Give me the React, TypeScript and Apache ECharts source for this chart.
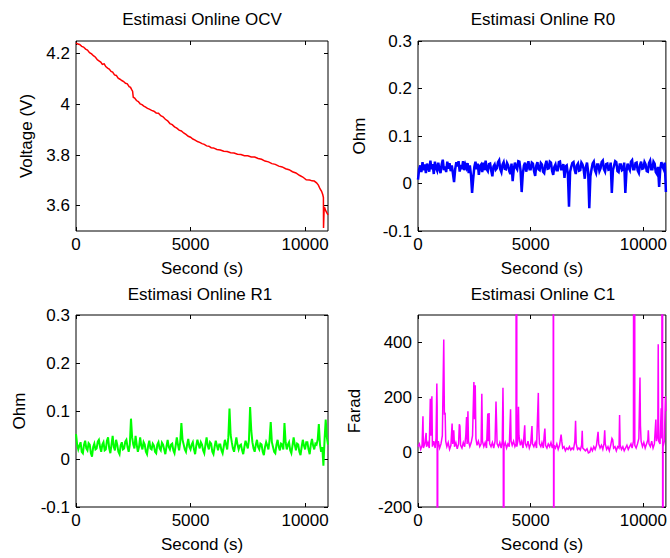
import { useEffect, useRef } from "react";
import * as echarts from "echarts";

// ---- Data ----
const ocvSamples: [number, number][] = [
  [0, 4.243], [80, 4.238], [160, 4.236], [250, 4.229], [330, 4.226], [420, 4.218], [500, 4.214], [590, 4.204], [680, 4.199], [760, 4.192],
  [850, 4.186], [930, 4.176], [1000, 4.172], [1080, 4.167], [1150, 4.158], [1230, 4.16], [1300, 4.149], [1380, 4.143], [1450, 4.139], [1530, 4.13],
  [1600, 4.127], [1680, 4.116], [1760, 4.114], [1840, 4.103], [1920, 4.099], [2000, 4.094], [2080, 4.09], [2160, 4.083], [2240, 4.081], [2320, 4.07],
  [2380, 4.067], [2430, 4.058], [2470, 4.052], [2500, 4.028], [2560, 4.025], [2640, 4.015], [2720, 4.011], [2800, 4.002], [2880, 3.999], [2960, 3.993],
  [3040, 3.989], [3120, 3.984], [3200, 3.981], [3300, 3.976], [3400, 3.973], [3500, 3.966], [3600, 3.965], [3700, 3.955], [3800, 3.951], [3900, 3.941],
  [4000, 3.935], [4100, 3.924], [4200, 3.92], [4300, 3.911], [4400, 3.906], [4500, 3.898], [4600, 3.895], [4700, 3.887], [4800, 3.881], [4900, 3.874],
  [5000, 3.87], [5100, 3.863], [5200, 3.859], [5300, 3.853], [5400, 3.85], [5500, 3.845], [5600, 3.842], [5700, 3.836], [5800, 3.835], [5900, 3.829],
  [6000, 3.828], [6150, 3.822], [6300, 3.82], [6450, 3.815], [6600, 3.814], [6750, 3.809], [6900, 3.808], [7050, 3.803], [7200, 3.802], [7350, 3.797],
  [7500, 3.797], [7650, 3.792], [7800, 3.792], [7950, 3.786], [8100, 3.783], [8250, 3.776], [8400, 3.773], [8550, 3.766], [8700, 3.763], [8850, 3.756],
  [9000, 3.753], [9150, 3.746], [9300, 3.742], [9450, 3.734], [9600, 3.729], [9750, 3.72], [9900, 3.713], [10050, 3.702], [10200, 3.701], [10300, 3.698],
  [10400, 3.697], [10500, 3.69], [10580, 3.681], [10650, 3.667], [10720, 3.657], [10770, 3.644], [10800, 3.632], [10805, 3.512], [10830, 3.585], [10860, 3.59],
  [10900, 3.58], [10950, 3.572], [11000, 3.564],
];

const resistanceStep = 50; // seconds between R0 / R1 samples
const r0Ohm = [
  0.008, 0.03, 0.038, 0.024, 0.045, 0.028, 0.04, 0.022, 0.042, 0.035, 0.025, 0.048, 0.03, 0.041, 0.02, 0.046, 0.033, 0.027, 0.044, 0.03,
  0.022, 0.04, 0.05, 0.028, 0.036, 0.024, 0.046, 0.031, 0.043, 0.026, 0.038, 0.021, 0.003, 0.03, 0.045, 0.036, 0.047, 0.025, 0.039, 0.03,
  0.047, 0.028, 0.04, 0.033, 0.043, 0.022, 0.038, 0.018, -0.02, 0.01, 0.035, 0.046, 0.03, 0.042, 0.018, 0.037, 0.04, 0.024, 0.044, 0.028,
  0.048, 0.03, 0.026, 0.041, 0.042, 0.027, 0.015, 0.036, 0.04, 0.029, 0.032, 0.045, 0.049, 0.03, 0.024, 0.04, 0.045, 0.031, 0.03, 0.043,
  0.038, 0.026, 0.02, 0.042, 0.005, 0.03, 0.044, 0.034, 0.03, 0.047, 0.046, 0.028, -0.018, 0.02, 0.038, 0.044, 0.025, 0.036, 0.047, 0.03,
  0.03, 0.044, 0.042, 0.026, 0.016, 0.038, 0.045, 0.03, 0.028, 0.043, 0.04, 0.025, 0.022, 0.039, 0.048, 0.031, 0.032, 0.046, 0.044, 0.027,
  0.018, 0.035, 0.04, 0.028, 0.028, 0.045, 0.046, 0.03, 0.03, 0.041, 0.012, 0.036, 0.038, 0.02, -0.049, 0.025, 0.035, 0.043, 0.045, 0.029,
  0.02, 0.038, 0.042, 0.027, 0.028, 0.044, 0.04, 0.03, 0.01, 0.035, 0.044, 0.025, -0.052, 0.015, 0.03, 0.042, 0.046, 0.028, 0.022, 0.04,
  0.04, 0.026, 0.032, 0.045, 0.048, 0.03, 0.025, 0.041, 0.042, 0.029, 0.03, 0.044, -0.02, 0.028, 0.038, 0.047, 0.045, 0.026, 0.024, 0.04,
  0.04, 0.028, 0.03, 0.044, -0.02, 0.025, 0.042, 0.033, 0.028, 0.046, 0.049, 0.03, 0.03, 0.043, 0.044, 0.027, 0.022, 0.039, 0.046, 0.031,
  0.032, 0.045, 0.04, 0.026, 0.025, 0.043, 0.048, 0.03, 0.03, 0.046, 0.042, 0.024, 0.02, 0.035, -0.007, 0.03, 0.045, 0.036, 0.03, 0.044, -0.018,
];
const r1Ohm = [
  0.052, 0.03, 0.02, 0.028, 0.035, 0.015, 0.012, 0.03, 0.038, 0.022, 0.018, 0.033, 0.03, 0.012, 0.005, 0.025, 0.032, 0.02, 0.022, 0.036,
  0.04, 0.025, 0.015, 0.03, 0.035, 0.018, 0.02, 0.038, 0.045, 0.022, 0.012, 0.03, 0.048, 0.025, 0.018, 0.04, 0.03, 0.015, 0.01, 0.028,
  0.035, 0.02, 0.022, 0.036, 0.04, 0.025, 0.015, 0.03, 0.084, 0.045, 0.03, 0.022, 0.048, 0.03, 0.015, 0.025, 0.045, 0.028, 0.02, 0.035,
  0.03, 0.015, 0.01, 0.028, 0.038, 0.022, 0.02, 0.032, 0.028, 0.015, 0.012, 0.03, 0.035, 0.022, 0.018, 0.034, 0.03, 0.02, 0.01, 0.026,
  0.04, 0.025, 0.02, 0.03, 0.032, 0.018, 0.012, 0.028, 0.045, 0.03, 0.018, 0.035, 0.075, 0.04, 0.03, 0.02, 0.015, 0.03, 0.042, 0.025,
  0.02, 0.03, 0.035, 0.02, 0.01, 0.028, 0.04, 0.03, 0.022, 0.035, 0.03, 0.018, 0.012, 0.03, 0.045, 0.028, 0.02, 0.035, 0.032, 0.015,
  0.01, 0.025, 0.038, 0.028, 0.018, 0.03, 0.03, 0.018, 0.012, 0.026, 0.04, 0.03, 0.02, 0.045, 0.105, 0.05, 0.035, 0.022, 0.015, 0.03,
  0.045, 0.03, 0.02, 0.028, 0.03, 0.018, 0.01, 0.025, 0.038, 0.03, 0.022, 0.04, 0.108, 0.06, 0.035, 0.022, 0.015, 0.03, 0.04, 0.025,
  0.02, 0.032, 0.03, 0.015, 0.008, 0.025, 0.035, 0.028, 0.02, 0.04, 0.077, 0.035, 0.025, 0.015, 0.012, 0.03, 0.04, 0.025, 0.018, 0.032,
  0.03, 0.02, 0.075, 0.035, 0.02, 0.03, 0.035, 0.018, 0.012, 0.028, 0.045, 0.03, 0.018, 0.032, 0.03, 0.015, 0.008, 0.025, 0.04, 0.028,
  0.02, 0.035, 0.035, 0.02, 0.01, 0.03, 0.042, 0.028, 0.02, 0.032, 0.03, 0.04, 0.073, 0.03, 0.015, 0.025, -0.014, 0.04, 0.082, 0.045, 0.03,
];

const c1Samples: [number, number][] = [
  [0, 20], [60, 30], [120, 10], [180, 25], [220, 131], [240, 15], [300, 30], [360, 70], [380, 20], [440, 35],
  [500, 15], [545, 195], [570, 60], [616, 204], [640, 20], [700, 40], [760, 15], [800, 50], [836, 250], [850, 165],
  [860, -5000], [875, 20], [900, 40], [960, 15], [1020, 30], [1080, 60], [1143, 411], [1170, 140], [1205, 141], [1230, 40],
  [1280, 20], [1340, 35], [1400, 10], [1460, 25], [1513, 104], [1540, 30], [1587, 80], [1620, 20], [1680, 35], [1740, 12],
  [1800, 30], [1834, 102], [1860, 95], [1890, 25], [1950, 15], [2010, 35], [2070, 20], [2120, 60], [2155, 128], [2180, 30],
  [2216, 149], [2240, 40], [2300, 20], [2360, 35], [2420, 60], [2480, 256], [2510, 120], [2540, 244], [2570, 50], [2620, 25],
  [2680, 40], [2740, 20], [2800, 30], [2832, 213], [2860, 40], [2920, 20], [2980, 35], [3040, 15], [3096, 141], [3120, 40],
  [3155, 143], [3180, 30], [3240, 20], [3300, 35], [3360, 15], [3420, 40], [3461, 185], [3480, 128], [3510, 30], [3570, 20],
  [3630, 35], [3690, 15], [3740, 40], [3770, 235], [3785, 130], [3800, -5000], [3815, 20], [3870, 35], [3930, 15], [3990, 30],
  [4050, 20], [4107, 156], [4130, 40], [4180, 25], [4240, 40], [4300, 20], [4350, 30], [4370, 5000], [4385, 20], [4430, 40],
  [4459, 165], [4480, 60], [4540, 25], [4600, 40], [4660, 15], [4736, 98], [4760, 30], [4820, 20], [4880, 40], [4940, 15],
  [5000, 30], [5057, 95], [5080, 30], [5140, 20], [5200, 35], [5260, 15], [5339, 216], [5360, 88], [5390, 30], [5450, 20],
  [5500, 35], [5560, 15], [5602, 64], [5630, 86], [5660, 25], [5720, 15], [5780, 30], [5840, 20], [5900, 35], [5960, 15],
  [6000, 30], [6012, 5000], [6020, -5000], [6035, 25], [6100, 15], [6160, 30], [6220, 10], [6280, 25], [6350, 64], [6380, 40],
  [6420, 15], [6480, 20], [6540, 5], [6600, 15], [6660, 10], [6720, 20], [6780, 8], [6840, 15], [6900, 10], [6960, 40],
  [6992, 114], [7020, 30], [7080, 10], [7140, 15], [7200, 8], [7260, 25], [7287, 78], [7310, 15], [7370, 10], [7430, 5],
  [7500, 12], [7560, -3], [7620, 0], [7680, 15], [7740, 5], [7800, 20], [7860, 10], [7920, 25], [7990, 74], [8020, 30],
  [8080, 15], [8140, 25], [8200, 10], [8250, 30], [8285, 80], [8310, 30], [8370, 10], [8430, 20], [8490, 5], [8550, 25],
  [8606, 50], [8640, 45], [8680, 15], [8740, 20], [8800, 5], [8860, 20], [8920, 15], [8945, 135], [8970, 25], [9030, 10],
  [9090, 20], [9150, 5], [9210, 15], [9270, 25], [9330, 10], [9390, 20], [9450, 30], [9500, 15], [9560, 40], [9604, 5000],
  [9620, 25], [9680, 15], [9740, 30], [9800, 50], [9850, 272], [9870, 98], [9900, 40], [9960, 20], [10020, 35], [10080, 15],
  [10140, 30], [10200, 45], [10220, 80], [10250, 30], [10310, 20], [10370, 40], [10430, 15], [10490, 30], [10554, 119], [10580, 40],
  [10640, 60], [10659, 393], [10680, 40], [10740, 30], [10790, 160], [10820, 50], [10850, 5000], [10860, -5000], [10875, 20], [10930, 40],
  [10980, 204], [11000, 150],
];

const titles = ["Estimasi Online OCV", "Estimasi Online R0", "Estimasi Online R1", "Estimasi Online C1"];
const yNames = ["Voltage (V)", "Ohm", "Ohm", "Farad"];
const xName = "Second (s)";
const xTicks = [0, 5000, 10000];
const ocvTicks = [3.6, 3.8, 4, 4.2];
const ohmTicks = [-0.1, 0, 0.1, 0.2, 0.3];
const faradTicks = [-200, 0, 200, 400];

const FONT = '"Liberation Sans", Arial, Helvetica, sans-serif';
const FS = 17;

export default function App() {
  const ref = useRef<HTMLDivElement>(null);

  useEffect(() => {
    if (!ref.current) return;
    const chart = echarts.init(ref.current, undefined, { renderer: "svg" });

    const grids = [
      { left: 76, top: 41, width: 252, height: 190 },
      { left: 418, top: 41, width: 251, height: 190 },
      { left: 76, top: 315, width: 252, height: 192 },
      { left: 418, top: 315, width: 251, height: 192 },
    ];
    const yRanges = [
      { min: 3.5, max: 4.25, ticks: ocvTicks },
      { min: -0.1, max: 0.3, ticks: ohmTicks },
      { min: -0.1, max: 0.3, ticks: ohmTicks },
      { min: -200, max: 500, ticks: faradTicks },
    ];
    const yNameGaps = [41, 50, 48, 55];

    const tickStyle = { color: "#000", width: 1 };
    const labelStyle = { fontSize: FS, color: "#000", fontFamily: FONT, fontWeight: "normal" as const };

    const xAxis: any[] = [];
    const yAxis: any[] = [];
    grids.forEach((_, g) => {
      xAxis.push({
        type: "value", gridIndex: g, min: 0, max: 11000, position: "bottom",
        name: xName, nameLocation: "middle", nameGap: 29,
        nameTextStyle: labelStyle,
        axisLine: { show: false, onZero: false },
        axisTick: { show: true, inside: true, length: 4, customValues: xTicks, lineStyle: tickStyle },
        axisLabel: { customValues: xTicks, formatter: (v: number) => String(v), margin: 5, ...labelStyle },
        splitLine: { show: false },
      });
      xAxis.push({
        type: "value", gridIndex: g, min: 0, max: 11000, position: "top",
        axisLine: { show: false, onZero: false },
        axisTick: { show: true, inside: true, length: 4, customValues: xTicks, lineStyle: tickStyle },
        axisLabel: { show: false },
        splitLine: { show: false },
      });
      const yr = yRanges[g];
      yAxis.push({
        type: "value", gridIndex: g, min: yr.min, max: yr.max, position: "left",
        name: yNames[g], nameLocation: "middle", nameGap: yNameGaps[g], nameRotate: 90,
        nameTextStyle: labelStyle,
        axisLine: { show: false, onZero: false },
        axisTick: { show: true, inside: true, length: 4, customValues: yr.ticks, lineStyle: tickStyle },
        axisLabel: { customValues: yr.ticks, formatter: (v: number) => String(v), margin: 6, ...labelStyle },
        splitLine: { show: false },
      });
      yAxis.push({
        type: "value", gridIndex: g, min: yr.min, max: yr.max, position: "right",
        axisLine: { show: false, onZero: false },
        axisTick: { show: true, inside: true, length: 4, customValues: yr.ticks, lineStyle: tickStyle },
        axisLabel: { show: false },
        splitLine: { show: false },
      });
    });

    const r0Data = r0Ohm.map((v, i) => [i * resistanceStep, v]);
    const r1Data = r1Ohm.map((v, i) => [i * resistanceStep, v]);

    const mkSeries = (g: number, data: number[][], color: string, width: number) => ({
      type: "line", xAxisIndex: 2 * g, yAxisIndex: 2 * g, data,
      showSymbol: false, symbol: "none", clip: true, silent: true,
      lineStyle: { color, width, join: "miter" },
    });

    const titleCenters = [
      [202, 11], [543, 11], [200, 286], [543, 286],
    ];

    chart.setOption({
      animation: false,
      backgroundColor: "#fff",
      title: titles.map((t, i) => ({
        text: t,
        left: titleCenters[i][0],
        top: titleCenters[i][1],
        textAlign: "center",
        padding: 0,
        textStyle: { fontSize: FS, fontFamily: FONT, fontWeight: "normal", color: "#000" },
      })),
      grid: grids.map((gr) => ({ ...gr, show: true, borderColor: "#000", borderWidth: 1, backgroundColor: "transparent" })),
      xAxis,
      yAxis,
      series: [
        mkSeries(0, ocvSamples, "#ff0000", 1.5),
        mkSeries(1, r0Data, "#0000ff", 2.5),
        mkSeries(2, r1Data, "#00ff00", 2),
        mkSeries(3, c1Samples, "#ff00ff", 1.5),
      ],
    });

    return () => chart.dispose();
  }, []);

  return <div ref={ref} style={{ position: "fixed", left: 0, top: 0, width: 670, height: 558 }} />;
}
